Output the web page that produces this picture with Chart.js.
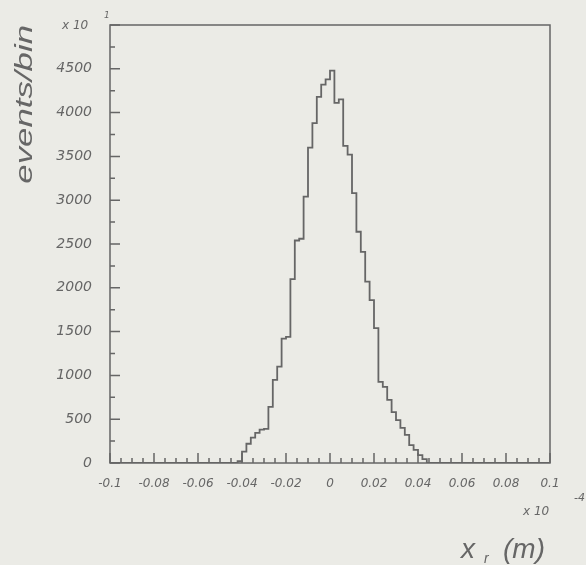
<!DOCTYPE html>
<html>
<head>
<meta charset="utf-8">
<script src="https://cdn.jsdelivr.net/npm/chart.js@4/dist/chart.umd.min.js"></script>
<style>
  html,body{margin:0;padding:0;background:#ebebe6;}
  #wrap{width:586px;height:565px;}
</style>
</head>
<body>
<div id="wrap"><canvas id="grafico" width="586" height="565"></canvas></div>
<script>
// left edge of each histogram bin (m, x 10^-4) and events in that bin
const binLow = [-0.1, -0.042, -0.04, -0.038, -0.036, -0.034, -0.032, -0.03, -0.028, -0.026, -0.024,
  -0.022, -0.02, -0.018, -0.016, -0.014, -0.012, -0.01, -0.008, -0.006, -0.004, -0.002,
  0, 0.002, 0.004, 0.006, 0.008, 0.01, 0.012, 0.014, 0.016, 0.018, 0.02, 0.022, 0.024,
  0.026, 0.028, 0.03, 0.032, 0.034, 0.036, 0.038, 0.04, 0.042, 0.044, 0.1];
const counts = [0, 20, 130, 220, 290, 345, 380, 390, 640, 950, 1100,
  1420, 1440, 2100, 2540, 2560, 3040, 3600, 3880, 4180, 4320, 4380,
  4480, 4110, 4150, 3620, 3520, 3080, 2640, 2410, 2070, 1860, 1540, 925, 870,
  720, 580, 490, 400, 320, 205, 150, 90, 45, 0, 0];
const xTicks = ["-0.1", "-0.08", "-0.06", "-0.04", "-0.02", "0", "0.02", "0.04", "0.06", "0.08", "0.1"];
const yTicks = ["0", "500", "1000", "1500", "2000", "2500", "3000", "3500", "4000", "4500"];

const ink = "#666";
const pontos = binLow.map((x, i) => ({x, y: counts[i]}));

const ticksDentro = {
  id: "ticksDentro",
  afterDraw(chart) {
    const ctx = chart.ctx, xs = chart.scales.x, ys = chart.scales.y, a = chart.chartArea;
    ctx.save();
    ctx.strokeStyle = ink; ctx.lineWidth = 1.5;
    // frame
    ctx.strokeRect(a.left, a.top, a.right - a.left, a.bottom - a.top);
    ctx.beginPath();
    for (let v = 0; v <= 5000; v += 250) {
      const p = ys.getPixelForValue(v), len = v % 500 === 0 ? 10 : 5;
      ctx.moveTo(a.left, p); ctx.lineTo(a.left + len, p);
    }
    for (let k = -20; k <= 20; k++) {
      const p = xs.getPixelForValue(k * 0.005), len = k % 4 === 0 ? 10 : 5;
      ctx.moveTo(p, a.bottom); ctx.lineTo(p, a.bottom - len);
    }
    ctx.stroke();
    // texts
    ctx.fillStyle = ink;
    ctx.font = "italic 12px 'DejaVu Sans'";
    ctx.textBaseline = "alphabetic";
    ctx.fillText("x 10", 62, 29);
    ctx.font = "italic 9px 'DejaVu Sans'";
    ctx.fillText("1", 104, 18);
    ctx.font = "italic 12px 'DejaVu Sans'";
    ctx.fillText("x 10", 523, 515);
    ctx.font = "italic 11px 'DejaVu Sans'";
    ctx.fillText("-4", 574, 501);
    ctx.font = "italic 28px 'Liberation Sans'";
    ctx.fillText("x", 461, 558);
    ctx.font = "italic 14px 'Liberation Sans'";
    ctx.fillText("r", 484, 563);
    ctx.font = "italic 28px 'Liberation Sans'";
    ctx.fillText("(m)", 503, 558);
    ctx.translate(32, 25);
    ctx.rotate(-Math.PI / 2);
    ctx.scale(1.45, 1);
    ctx.textAlign = "right";
    ctx.font = "italic 24px 'Liberation Sans'";
    ctx.fillText("events/bin", 0, 0);
    ctx.restore();
  }
};

new Chart(document.getElementById("grafico"), {
  type: "line",
  data: {
    datasets: [{
      data: pontos,
      stepped: "before",
      borderColor: ink,
      borderWidth: 1.8,
      pointRadius: 0,
      fill: false
    }]
  },
  options: {
    responsive: false,
    animation: false,
    layout: {padding: {top: 25, right: 36, left: 0, bottom: 0}},
    plugins: {legend: {display: false}, tooltip: {enabled: false}},
    scales: {
      x: {
        type: "linear", min: -0.1, max: 0.1,
        afterFit(s) { s.height = 102; },
        afterBuildTicks(s) { s.ticks = xTicks.map(t => ({value: +t})); },
        grid: {display: false},
        border: {display: false},
        ticks: {
          autoSkip: false, maxRotation: 0, padding: 6, color: ink,
          font: {family: "DejaVu Sans", size: 12, style: "italic"},
          callback: (v, i) => xTicks[i]
        }
      },
      y: {
        min: 0, max: 5000,
        afterFit(s) { s.width = 110; },
        afterBuildTicks(s) { s.ticks = yTicks.map(t => ({value: +t})); },
        grid: {display: false},
        border: {display: false},
        ticks: {
          padding: 10, color: ink,
          font: {family: "DejaVu Sans", size: 14, style: "italic"},
          callback: (v, i) => yTicks[i]
        }
      }
    }
  },
  plugins: [ticksDentro]
});
</script>
</body>
</html>
